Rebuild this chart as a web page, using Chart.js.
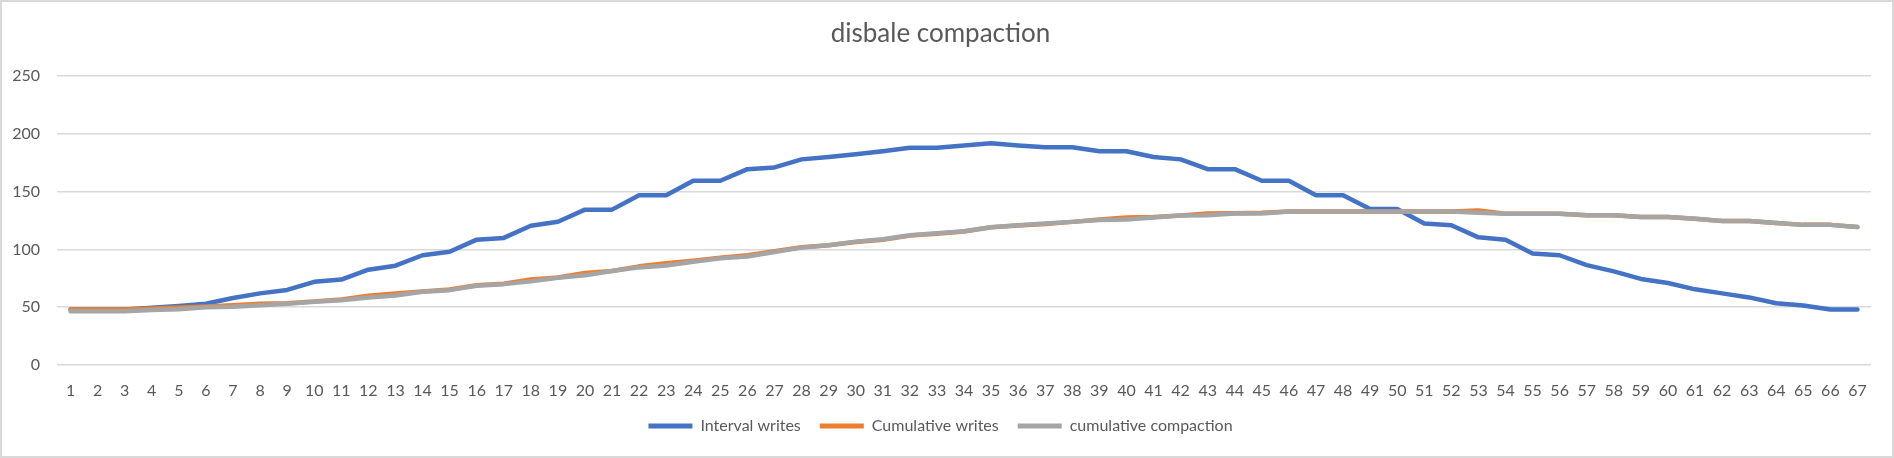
<!DOCTYPE html>
<html>
<head>
<meta charset="utf-8">
<script src="https://cdn.jsdelivr.net/npm/chart.js@4"></script>
<style>
html,body{margin:0;padding:0;background:#fff;}
#wrap{position:relative;width:1894px;height:458px;box-sizing:border-box;border:2px solid #d9d9d9;}
canvas{display:block;}
</style>
</head>
<body>
<div id="wrap"><canvas id="c" width="1890" height="454"></canvas></div>
<script>
const titleText = "disbale compaction";
const categories = Array.from({length: 67}, (_, i) => String(i + 1));
const intervalWrites = [48,48,48,49.5,51,53,58,62,65,72,74,82.5,86,95,98,108.5,110,120.5,124,134.5,134.5,147,147,159.5,159.5,169.5,171,178,180,182.5,185,188,188,190,192,190,188.5,188.5,185,185,180,178,169.5,169.5,159.5,159.5,147,147,135,135,122.5,121,110.5,108.5,96.5,95,86.5,81,74.5,71,65.5,62,58.5,53.5,51.5,48,48];
const cumulativeWrites = [48,48,48,49,49.8,50.6,51.8,53,53.5,55,56.7,60,62,63.7,65.4,69,70.3,74,75.8,79.6,81.3,85.4,88,90.3,92.9,95,98.4,101.9,103.6,106.5,108.5,112,113.7,115.5,119.2,120.7,122.1,123.9,125.9,127.6,128.2,129.4,131.1,131.4,131.7,132.8,132.8,132.8,132.8,132.8,132.8,132.8,133.7,131,131,131,129.6,129.6,128.2,128.2,126.5,124.7,124.7,123,121.3,121.3,119.5];
const cumulativeCompaction = [46.6,46.6,46.6,47.7,48.3,50,50.4,51.8,53,54.7,56.1,58.5,60.2,63.4,64.8,68.6,70,72.4,75.5,77.6,81.3,84.5,86.2,89.4,92.3,94,97.8,101.6,103.6,106.8,108.8,112.3,114,115.8,119.2,121,122.4,123.9,125.6,125.9,127.6,129.4,129.7,131.1,131.1,132.8,132.8,132.8,132.8,132.8,132.8,132.8,131.7,131,131,131,129.6,129.6,128.2,128.2,126.5,124.7,124.7,123,121.3,121.3,119.5];
const seriesNames = ["Interval writes", "Cumulative writes", "cumulative compaction"];
const seriesColors = ["#4472C4", "#ED7D31", "#A5A5A5"];
const yTicks = [0, 50, 100, 150, 200, 250];

const FONT = "Lato, 'Open Sans', sans-serif";
const series = [intervalWrites, cumulativeWrites, cumulativeCompaction];
const datasets = series.map((d, i) => ({
  label: seriesNames[i],
  data: d,
  borderColor: seriesColors[i],
  backgroundColor: seriesColors[i],
  borderWidth: 4.5,
  pointRadius: 0,
  tension: 0,
  fill: false,
  order: i === 2 ? 0 : (i === 1 ? 1 : 2),
  borderCapStyle: 'round',
  borderJoinStyle: 'round'
}));

new Chart(document.getElementById('c'), {
  type: 'line',
  data: { labels: categories, datasets },
  options: {
    responsive: false,
    animation: false,
    layout: { padding: { top: 0, left: 8, right: 21, bottom: 12 } },
    plugins: {
      title: {
        display: true,
        text: titleText,
        color: '#595959',
        font: { family: FONT, size: 26, weight: 'normal' },
        padding: { top: 16, bottom: 27 }
      },
      legend: {
        position: 'bottom',
        labels: {
          color: '#595959',
          font: { family: FONT, size: 16 },
          boxWidth: 44,
          boxHeight: 5,
          padding: 19,
          generateLabels(chart) {
            return chart.data.datasets.map((ds, i) => ({
              text: ds.label,
              fillStyle: ds.borderColor,
              strokeStyle: ds.borderColor,
              lineWidth: 0,
              hidden: false,
              datasetIndex: i,
              fontColor: '#595959'
            }));
          }
        }
      },
      tooltip: { enabled: false }
    },
    scales: {
      x: {
        offset: true,
        afterFit(scale) { scale.height = 34; },
        grid: { display: false, drawTicks: false },
        border: { display: false },
        ticks: { color: '#595959', font: { family: FONT, size: 16, lineHeight: 1 }, padding: 18, maxRotation: 0, autoSkip: false }
      },
      y: {
        min: yTicks[0],
        max: yTicks[yTicks.length - 1],
        afterBuildTicks(scale) { scale.ticks = yTicks.map(v => ({ value: v })); },
        afterFit(scale) { scale.width = 47; },
        grid: { color: '#d9d9d9', lineWidth: 1.5, drawTicks: false },
        border: { display: false },
        ticks: { color: '#595959', font: { family: FONT, size: 16 }, padding: 17 }
      }
    }
  }
});
</script>
</body>
</html>
